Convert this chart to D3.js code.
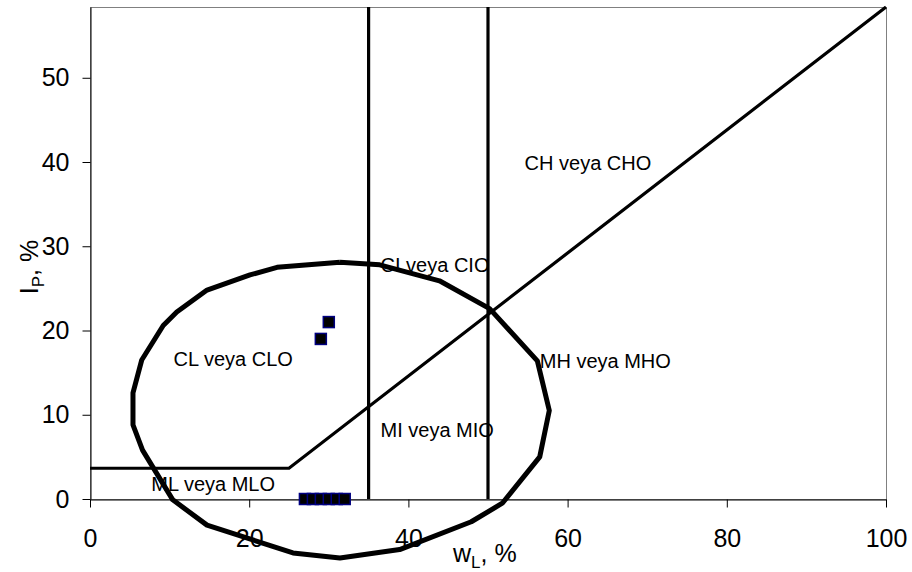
<!DOCTYPE html>
<html>
<head>
<meta charset="utf-8">
<script src="https://cdn.jsdelivr.net/npm/d3@7/dist/d3.min.js"></script>
<style>
  html, body { margin: 0; padding: 0; background: #fff; }
  svg { display: block; font-family: "Liberation Sans", Arial, sans-serif; }
</style>
</head>
<body>
<svg id="chart" width="912" height="572"></svg>
<script>
// Plasticity chart: liquid limit wL (%) vs plasticity index IP (%)
const xTicks = [0, 20, 40, 60, 80, 100];
const yTicks = [0, 10, 20, 30, 40, 50];

// A-line with its low-plasticity horizontal step
const aLineWL = [0, 25, 100];
const aLineIP = [3.65, 3.65, 58.4];

// Liquid-limit boundaries between low / intermediate / high plasticity
const limitWL = [35, 50];

// Outline drawn around the tested samples (closed polyline)
const ringWL = [31.4, 36.4, 43.9, 50.2, 56.2, 57.7, 56.5, 51.8, 47.9, 38.9, 31.4, 25.5, 14.7, 10.4, 6.6, 5.4, 5.4, 6.5, 9.2, 10.9, 14.7, 20.1, 23.5, 31.4];
const ringIP = [28.1, 27.8, 25.9, 22.6, 16.4, 10.5, 5.0, -0.5, -2.7, -6.0, -7.0, -6.4, -3.1, -0.1, 5.8, 8.8, 12.6, 16.5, 20.6, 22.2, 24.8, 26.6, 27.5, 28.1];

// Plastic samples
const sampleWL = [29, 30];
const sampleIP = [19, 21];

// Non-plastic samples (IP = 0)
const npWL = [27, 28, 29, 30, 31, 32];
const npIP = [0, 0, 0, 0, 0, 0];

// Soil group names
const zoneNames = ["CH veya CHO", "CI veya CIO", "MH veya MHO", "CL veya CLO", "MI veya MIO", "ML veya MLO"];
const zoneWL = [54.6, 36.5, 56.5, 10.5, 36.5, 7.7];
const zoneIP = [39.0, 26.9, 15.6, 15.8, 7.4, 0.9];

const svg = d3.select("#chart");
const pLeft = 90, pRight = 886, pTop = 7, pBottom = 499;

const x = d3.scaleLinear().domain([0, 100]).range([pLeft, pRight]);
const y = d3.scaleLinear().domain([0, 58.4]).range([pBottom, pTop]);

// plot frame
svg.append("rect")
  .attr("x", pLeft + 0.5).attr("y", pTop + 0.5)
  .attr("width", pRight - pLeft).attr("height", pBottom - pTop)
  .attr("fill", "none").attr("stroke", "#808080").attr("stroke-width", 1);

// axes
const yAxis = svg.append("g")
  .attr("transform", `translate(${pLeft + 0.5},0)`)
  .call(d3.axisLeft(y).tickValues(yTicks).tickSize(8).tickPadding(13).tickSizeOuter(0));
const xAxis = svg.append("g")
  .attr("transform", `translate(0,${pBottom + 0.5})`)
  .call(d3.axisBottom(x).tickValues(xTicks).tickSize(8).tickPadding(22).tickSizeOuter(0));

[yAxis, xAxis].forEach(g => {
  g.select(".domain").attr("stroke", "#000");
  g.selectAll(".tick line").attr("stroke", "#000");
  g.selectAll(".tick text")
    .attr("fill", "#000")
    .style("font-size", "25px")
    .style("font-family", '"Liberation Sans", Arial, sans-serif');
});

const line = d3.line().x(d => x(d[0])).y(d => y(d[1]));

// A-line
svg.append("path")
  .datum(aLineWL.map((v, i) => [v, aLineIP[i]]))
  .attr("d", line)
  .attr("fill", "none").attr("stroke", "#000").attr("stroke-width", 3.2);

// wL = 35 and wL = 50
svg.selectAll(".limit")
  .data(limitWL)
  .join("line")
  .attr("class", "limit")
  .attr("x1", d => x(d)).attr("x2", d => x(d))
  .attr("y1", y(0)).attr("y2", y(58.4))
  .attr("stroke", "#000").attr("stroke-width", 3.2);

// sample outline
svg.append("path")
  .datum(ringWL.map((v, i) => [v, ringIP[i]]))
  .attr("d", line)
  .attr("fill", "none").attr("stroke", "#000").attr("stroke-width", 5)
  .attr("stroke-linejoin", "round");

// markers
const pts = sampleWL.map((v, i) => [v, sampleIP[i]])
  .concat(npWL.map((v, i) => [v, npIP[i]]));
const ms = 11;
svg.selectAll(".pt")
  .data(pts)
  .join("rect")
  .attr("class", "pt")
  .attr("x", d => x(d[0]) - ms / 2).attr("y", d => y(d[1]) - ms / 2)
  .attr("width", ms).attr("height", ms)
  .attr("fill", "#000").attr("stroke", "#000080").attr("stroke-width", 1.5);

// group names
svg.selectAll(".zone")
  .data(zoneNames)
  .join("text")
  .attr("class", "zone")
  .attr("x", (d, i) => x(zoneWL[i]))
  .attr("y", (d, i) => y(zoneIP[i]))
  .attr("font-size", 20)
  .attr("fill", "#000")
  .text(d => d);

// axis titles
const xt = svg.append("text")
  .attr("x", 453).attr("y", 562)
  .attr("font-size", 25).attr("fill", "#000");
xt.append("tspan").text("w");
xt.append("tspan").attr("font-size", 17).attr("dy", 6).text("L");
xt.append("tspan").attr("dy", -6).text(", %");

const yt = svg.append("text")
  .attr("transform", "translate(38,267) rotate(-90)")
  .attr("text-anchor", "middle")
  .attr("font-size", 25).attr("fill", "#000");
yt.append("tspan").text("I");
yt.append("tspan").attr("font-size", 17).attr("dy", 6).text("P");
yt.append("tspan").attr("dy", -6).text(", %");
</script>
</body>
</html>
